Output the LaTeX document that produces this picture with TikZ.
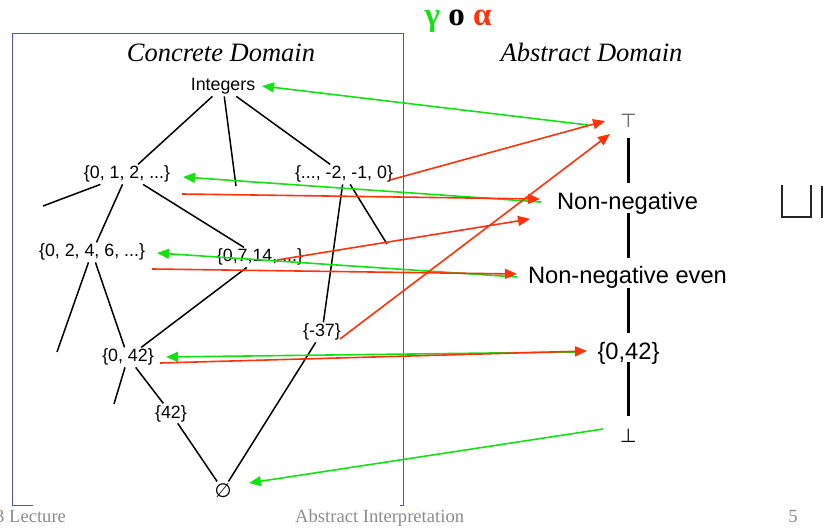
\documentclass[tikz,border=0pt]{standalone}
\usepackage{fontspec}
\setmainfont{Liberation Serif}
\setsansfont{Liberation Sans}
\newfontfamily\dejavu{DejaVu Sans}
\usetikzlibrary{arrows.meta}
\definecolor{gcol}{RGB}{20,225,20}
\definecolor{rcol}{RGB}{255,50,10}
\definecolor{bcol}{RGB}{80,80,200}
\definecolor{fcol}{RGB}{140,140,140}
\begin{document}
\begin{tikzpicture}[x=1pt,y=-1pt,
  conc/.style={font=\sffamily\fontsize{17.8}{20}\selectfont, inner sep=1.5pt, anchor=base},
  abst/.style={font=\sffamily\fontsize{23.7}{26}\selectfont, inner sep=0pt, anchor=base},
  dtitle/.style={font=\itshape\fontsize{26.5}{30}\selectfont, inner sep=0pt, anchor=base},
  foot/.style={font=\fontsize{18.6}{21}\selectfont, text=fcol, inner sep=0pt},
  hasse/.style={line width=1.5pt, black},
  ahasse/.style={line width=2.3pt, black},
  gam/.style={gcol, line width=1.6pt, -{Triangle[length=12pt,width=10pt]}},
  alp/.style={rcol, line width=1.6pt, -{Triangle[length=12pt,width=10pt]}}
]
\useasboundingbox (0,0) rectangle (825,529);

% frame of the concrete domain
\draw[bcol, line width=0.9pt] (33,505) -- (12,505) -- (12,33) -- (403,33) -- (403,505) -- (400,505);

% titles
\node[anchor=base, font=\bfseries\fontsize{33}{36}\selectfont, inner sep=0pt] (title) at (458,26)
  {\textcolor{gcol}{γ} o \textcolor{rcol}{α}};
\node[dtitle] (cdom) at (221,62) {Concrete Domain};
\node[dtitle] (adom) at (591.5,62) {Abstract Domain};

% concrete nodes
\node[conc] (int) at (223,91) {Integers};
\node[conc] (nat) at (127,179) {\{0, 1, 2, ...\}};
\node[conc] (neg) at (344,179) {\{..., -2, -1, 0\}};
\node[conc] (even) at (92,257) {\{0, 2, 4, 6, ...\}};
\node[conc] (sev) at (260,262) {\{0,7,14, ...\}};
\node[conc] (m37) at (322,337) {\{-37\}};
\node[conc] (c042) at (128,362) {\{0, 42\}};
\node[conc] (c42) at (171,418) {\{42\}};
\node[conc, font=\dejavu\fontsize{19.5}{22}\selectfont] (empty) at (223,497) {∅};

% dangling ends of the concrete lattice
\coordinate (d1) at (236,186);
\coordinate (d2) at (43,206);
\coordinate (d3) at (387,244);
\coordinate (d4) at (57,352);
\coordinate (d5) at (114,404);

% concrete lattice lines
\draw[hasse] (int) -- (nat);
\draw[hasse] (int) -- (d1);
\draw[hasse] (int) -- (neg);
\draw[hasse] (nat) -- (d2);
\draw[hasse] (nat) -- (even);
\draw[hasse] (nat) -- (sev);
\draw[hasse] (neg) -- (m37);
\draw[hasse] (neg) -- (d3);
\draw[hasse] (even) -- (d4);
\draw[hasse] (even) -- (c042);
\draw[hasse] (sev) -- (c042);
\draw[hasse] (c042) -- (d5);
\draw[hasse] (c042) -- (c42);
\draw[hasse] (c42) -- (empty);
\draw[hasse] (m37) -- (empty);

% abstract nodes
\node[anchor=base, font=\dejavu\fontsize{19}{22}\selectfont, text=black!65, inner sep=0pt] (top) at (628.5,128) {⊤};
\node[abst] (nn) at (627.5,210) {Non-negative};
\node[abst] (nne) at (627.5,284) {Non-negative even};
\node[abst] (a042) at (628.5,360) {\{0,42\}};
\node[anchor=base, font=\dejavu\fontsize{19}{22}\selectfont, inner sep=0pt] (bot) at (628.5,442) {⊥};

% abstract lattice lines
\draw[ahasse] ([yshift=-10pt]top.base) -- ([yshift=27pt]a042.base |- nn.base);
\draw[ahasse] ([yshift=-3pt]a042.base |- nn.base) -- ([yshift=26pt]a042.base |- nne.base);
\draw[ahasse] ([yshift=-4pt]a042.base |- nne.base) -- ([yshift=27pt]a042.base);
\draw[ahasse] ([yshift=-2pt]a042.base) -- ([yshift=26pt]bot.base);

% symbol at the right edge
\draw[line width=2pt, black!85] (781.5,185) -- (781.5,217.5) -- (811,217.5) -- (811,185);
\draw[line width=2pt, black!85] (821.5,186) -- (821.5,218);

% arrow end points
\coordinate (gTopS) at (588,125);
\coordinate (gIntE) at (262,86);
\coordinate (gNnS) at (541,202);
\coordinate (gNatE) at (183,177);
\coordinate (gNneS) at (517,277);
\coordinate (gEvenE) at (157,253);
\coordinate (gA42S) at (575,352);
\coordinate (gC42E) at (166,357);
\coordinate (gBotS) at (603,429);
\coordinate (gEmptyE) at (249,483);

\coordinate (rNegS) at (390,180);
\coordinate (rTopE1) at (605,121);
\coordinate (rNatS) at (182,194);
\coordinate (rNnE1) at (540,199);
\coordinate (rSevS) at (277,260);
\coordinate (rNnE2) at (530,219);
\coordinate (rEvenS) at (152,269);
\coordinate (rNneE) at (517,274);
\coordinate (rM37S) at (340,339);
\coordinate (rTopE2) at (610,134);
\coordinate (rC42S) at (160,363);
\coordinate (rA42E) at (587,351);

% gamma arrows
\draw[gam] (gTopS) -- (gIntE);
\draw[gam] (gNnS) -- (gNatE);
\draw[gam] (gNneS) -- (gEvenE);
\draw[gam] (gA42S) -- (gC42E);
\draw[gam] (gBotS) -- (gEmptyE);

% alpha arrows
\draw[alp] (rNegS) -- (rTopE1);
\draw[alp] (rNatS) -- (rNnE1);
\draw[alp] (rSevS) -- (rNnE2);
\draw[alp] (rEvenS) -- (rNneE);
\draw[alp] (rM37S) -- (rTopE2);
\draw[alp] (rC42S) -- (rA42E);

% footer
\node[foot, anchor=base west] (f1) at (-5,522) {3 Lecture};
\node[foot, anchor=base west] (f2) at (295,522) {Abstract Interpretation};
\node[foot, anchor=base] (f3) at (793,522) {5};
\end{tikzpicture}
\end{document}
